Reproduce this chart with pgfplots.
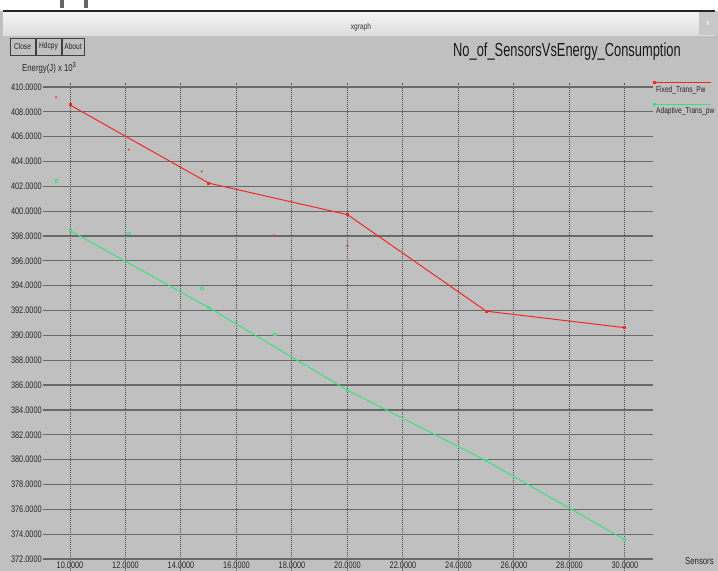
\documentclass[border=0pt]{standalone}
\usepackage{pgfplots}
\pgfplotsset{compat=1.18}
\usepackage{fontspec}
\setmainfont{Liberation Sans}
\newfontfamily\cnd[FakeStretch=0.78]{Liberation Sans}
\newfontfamily\cndt[FakeStretch=0.68]{Liberation Sans}
\definecolor{bg}{RGB}{192,192,192}
\definecolor{fixedred}{RGB}{240,40,40}
\definecolor{adagreen}{RGB}{60,225,130}
\definecolor{hgrid}{RGB}{105,105,105}
\definecolor{vgrid}{RGB}{80,80,80}
\definecolor{bartop}{RGB}{246,246,246}
\definecolor{barbot}{RGB}{220,220,220}
\definecolor{closebtn}{RGB}{200,200,200}
\begin{document}
\begin{tikzpicture}[x=1bp,y=1bp]
\useasboundingbox (0,0) rectangle (718,571);
\clip (0,0) rectangle (718,571);
\fill[bg] (0,0) rectangle (718,571);
\fill[white] (0,560) rectangle (718,571);
\shade[top color=bartop, bottom color=barbot] (3,535) rectangle (715,560);
\draw[black!85, line width=1.2] (3,560) -- (715,560);
\fill[black!60] (60,563) rectangle (64,571);
\fill[black!60] (84,563) rectangle (88,571);
\fill[closebtn] (699,536) rectangle (718,559);
\node[white, font=\cnd\fontsize{8}{9}\selectfont] at (708,548) {x};
\node[font=\cnd\fontsize{8.5}{9}\selectfont, text=black!80] at (361,544) {xgraph};
% buttons
\draw[black!75, line width=0.8] (10,516) rectangle (35,533);
\draw[black!75, line width=0.8] (36,516) rectangle (61,533);
\draw[black!75, line width=0.8] (62,516) rectangle (84,533);
\node[font=\cnd\fontsize{8.5}{9}\selectfont, text=black!85] at (22.5,524.5) {Close};
\node[font=\cnd\fontsize{8.5}{9}\selectfont, text=black!85] at (48.5,524.5) {Hdcpy};
\node[font=\cnd\fontsize{8.5}{9}\selectfont, text=black!85] at (73,524.5) {About};
% title
\node[anchor=west, inner sep=0pt, font=\cndt\fontsize{19}{21}\selectfont, text=black!90] at (453,519) {No\_of\_SensorsVsEnergy\_Consumption};
% y label
\node[anchor=west, inner sep=0pt, font=\cnd\fontsize{10}{11}\selectfont, text=black!85] at (22,503) {Energy(J) x 10\raisebox{3.5bp}{\fontsize{7.5}{8}\selectfont 3}};
% x label
\node[anchor=west, inner sep=0pt, font=\cnd\fontsize{10}{11}\selectfont, text=black!85] at (685,10) {Sensors};
\begin{axis}[
  at={(43bp,-0.4bp)}, anchor=south west,
  scale only axis, width=610bp, height=488.4bp,
  xmin=9.027, xmax=31.01, ymin=371, ymax=410.32,
  xtick={10,12,...,30}, ytick={372,374,...,410},
  axis line style={draw=none}, major tick length=0pt,
  xmajorgrids, ymajorgrids,
  y grid style={hgrid, line width=1.2bp},
  x grid style={vgrid, line width=1bp, dash pattern=on 1bp off 1bp},
  tick label style={font=\cnd\fontsize{9.5}{11}\selectfont, text=black!85},
  yticklabel={\pgfmathprintnumber[fixed,fixed zerofill,precision=4,assume math mode=true]{\tick}},
  xticklabel={\pgfmathprintnumber[fixed,fixed zerofill,precision=4,assume math mode=true]{\tick}},
  yticklabel style={anchor=east, inner sep=0pt, xshift=-1bp},
  xticklabel style={anchor=north, inner sep=0pt, yshift=9.6bp},
  legend style={at={(1,1)}, anchor=north west, draw=none, fill=none,
    font=\cnd\fontsize{8.5}{10}\selectfont, text=black!85, row sep=10bp, column sep=0bp, inner sep=1bp},
  legend cell align=left,
  legend image code/.code={\draw[#1, overlay] (0bp,7bp) -- (57bp,7bp); \fill[#1, overlay] (-1bp,6bp) rectangle (1bp,8bp);},
]
\addplot[fixedred, line width=1bp, mark=square*, mark size=1bp] coordinates {
(10,408.55) (15,402.26) (20,399.72) (25,391.95) (30,390.62)};
\addlegendentry{Fixed\_Trans\_Pw}
\addplot[adagreen, line width=1bp, mark=square*, mark size=1bp] coordinates {
(10,398.44) (15,392.24) (20,385.59) (25,379.90) (30,373.54)};
\addlegendentry{Adaptive\_Trans\_pw}
\addplot[fixedred, only marks, mark=x, mark size=1.3bp, forget plot] coordinates {
(9.5,409.17) (12.12,404.96) (14.75,403.20) (17.37,398.04) (20,397.20)};
\addplot[adagreen, only marks, mark=square, mark size=1.4bp, forget plot] coordinates {
(9.5,402.48) (12.12,398.22) (14.74,393.80) (17.37,390.09)};
\end{axis}
\end{tikzpicture}
\end{document}
